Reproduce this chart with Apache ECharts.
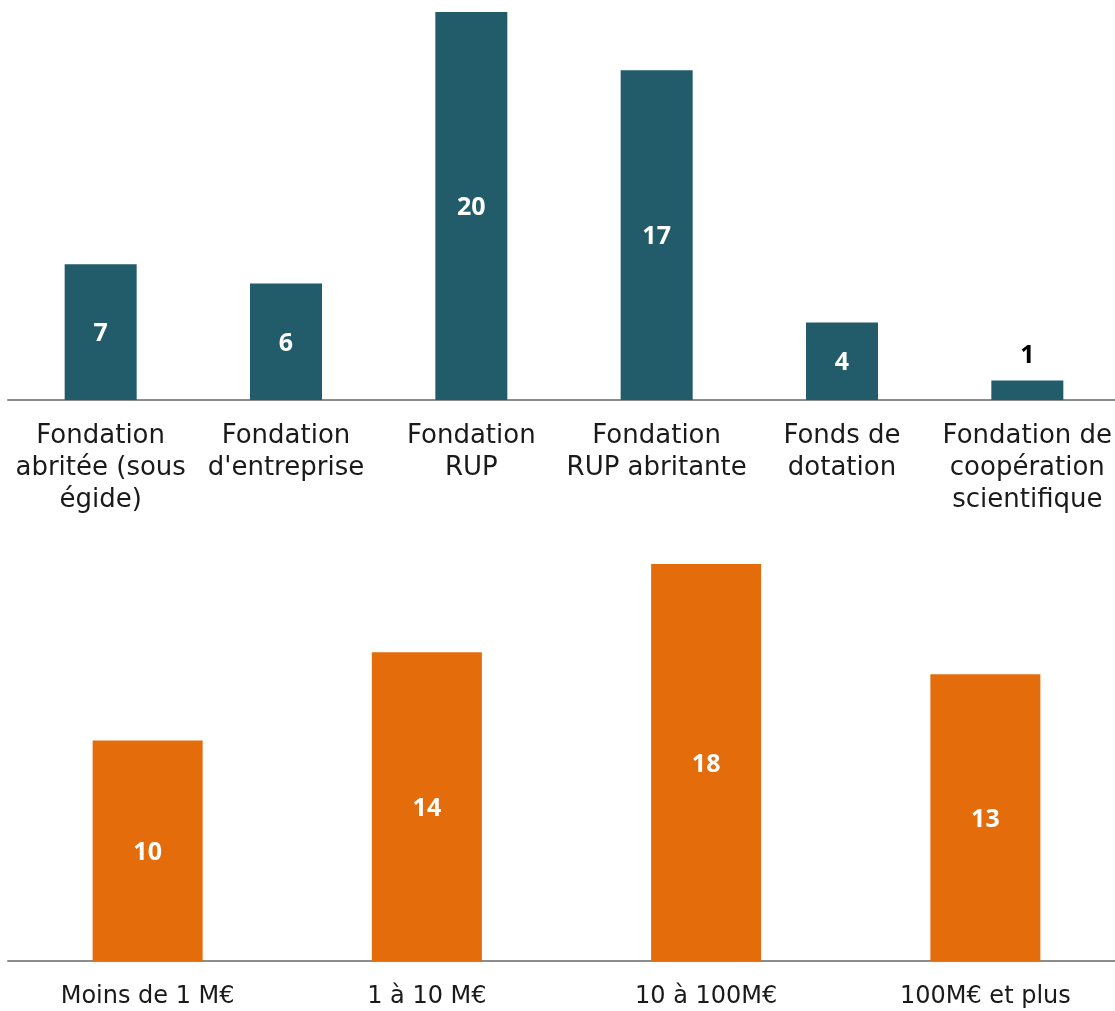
<!DOCTYPE html>
<html>
<head>
<meta charset="utf-8">
<script src="https://cdn.jsdelivr.net/npm/echarts@6/dist/echarts.min.js"></script>
<style>
  html, body { margin: 0; padding: 0; background: #fff; }
  #chart { width: 1115px; height: 1011px; }
</style>
</head>
<body>
<div id="chart"></div>
<script>
// Répartition par statut juridique
const statutCategories = [
  'Fondation\nabritée (sous\négide)',
  'Fondation\nd\'entreprise',
  'Fondation\nRUP',
  'Fondation\nRUP abritante',
  'Fonds de\ndotation',
  'Fondation de\ncoopération\nscientifique'
];
const statutValues = [7, 6, 20, 17, 4, 1];

// Répartition par taille
const tailleCategories = ['Moins de 1 M€', '1 à 10 M€', '10 à 100M€', '100M€ et plus'];
const tailleValues = [10, 14, 18, 13];

const TEXT_FONT = '"DejaVu Sans", sans-serif';
const VALUE_FONT = '"Open Sans", "DejaVu Sans", sans-serif';
const TEAL = '#225B69';
const ORANGE = '#E46C0A';

const chart = echarts.init(document.getElementById('chart'));

function catAxis(gridIndex, data, fontSize) {
  return {
    type: 'category',
    gridIndex: gridIndex,
    data: data,
    axisTick: { show: false },
    axisLine: { show: true, lineStyle: { color: '#8c8c8c', width: 2 } },
    axisLabel: {
      interval: 0,
      margin: 20,
      fontFamily: TEXT_FONT,
      fontSize: fontSize,
      lineHeight: 32,
      color: '#1a1a1a',
      align: 'center'
    }
  };
}

function valAxis(gridIndex, max) {
  return {
    type: 'value',
    gridIndex: gridIndex,
    min: 0,
    max: max,
    show: false,
    splitLine: { show: false }
  };
}

const labelStyle = {
  show: true,
  position: 'inside',
  offset: [0, 2],
  fontFamily: VALUE_FONT,
  fontWeight: 'bold',
  fontSize: 25,
  color: '#ffffff'
};

// Small bars get their label above the bar, in dark text
const statutData = statutValues.map(v => v <= 1
  ? { value: v, label: { position: 'top', distance: 12, offset: [0, 0], color: '#000000' } }
  : v);

chart.setOption({
  animation: false,
  grid: [
    { left: 8, width: 1112, top: 12, height: 388, outerBoundsMode: 'none' },
    { left: 8, width: 1117, top: 564, height: 397, outerBoundsMode: 'none' }
  ],
  xAxis: [catAxis(0, statutCategories, 26), catAxis(1, tailleCategories, 24)],
  yAxis: [valAxis(0, 20), valAxis(1, 18)],
  series: [
    {
      type: 'bar',
      xAxisIndex: 0,
      yAxisIndex: 0,
      data: statutData,
      barWidth: 72,
      itemStyle: { color: TEAL },
      label: labelStyle
    },
    {
      type: 'bar',
      xAxisIndex: 1,
      yAxisIndex: 1,
      data: tailleValues,
      barWidth: 110,
      itemStyle: { color: ORANGE },
      label: labelStyle
    }
  ]
});
</script>
</body>
</html>
